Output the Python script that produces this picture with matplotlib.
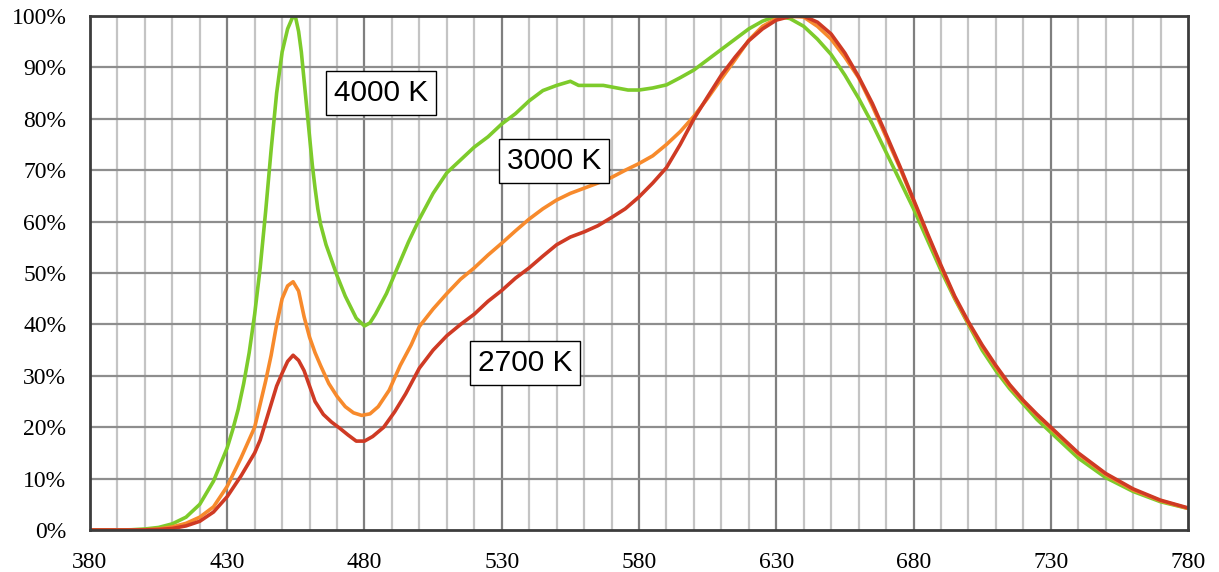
import matplotlib.pyplot as plt
import numpy as np

# wavelength (nm) and relative intensity (%)
wl_4000 = [380, 390, 395, 400, 405, 410, 415, 420, 425, 430, 432, 434, 436, 438, 440, 442, 444, 446, 448,
           450, 452, 454, 455, 456, 457, 458, 459, 460, 461, 462, 463, 464, 466, 468, 470, 473, 477, 480, 482,
           484, 488, 492, 496, 500, 505, 510, 515, 520, 525, 530, 535, 540, 545, 550, 555, 558, 562, 567,
           572, 576, 580, 585, 590, 595, 600, 605, 610, 615, 620, 625, 630, 635, 640, 645, 650, 655, 660,
           665, 670, 675, 680, 685, 690, 695, 700, 705, 710, 715, 720, 725, 730, 740, 750, 760, 770, 780]
val_4000 = [0, 0, 0.05, 0.2, 0.5, 1.2, 2.5, 5, 9.5, 16, 19.5, 23.5, 28.5, 34.5, 42, 51, 62, 74, 85,
            93, 97.5, 100, 99.5, 97, 93, 87.5, 82, 76.5, 71, 66.5, 62.5, 59.5, 55.5, 52.5, 49.5, 45.5, 41.2, 39.7, 40.3,
            42, 46, 51, 56, 60.5, 65.5, 69.5, 72, 74.5, 76.5, 79, 81, 83.5, 85.5, 86.5, 87.3, 86.5, 86.5, 86.5,
            86, 85.6, 85.6, 86, 86.6, 88, 89.5, 91.5, 93.5, 95.5, 97.5, 99, 100, 99.5, 98, 95.5, 92.5, 88.5, 84,
            79, 73.5, 68, 62.5, 56.5, 50.5, 45, 40, 35, 31, 27.5, 24.5, 21.5, 19, 14, 10.2, 7.5, 5.5, 4.2]

wl_3000 = [380, 395, 400, 405, 410, 415, 420, 425, 430, 435, 440, 442, 444, 446, 448, 450, 452, 454, 456,
           458, 460, 462, 464, 467, 470, 473, 476, 479, 482, 485, 489, 493, 497, 500, 505, 510, 515, 520,
           525, 530, 535, 540, 545, 550, 555, 560, 565, 570, 575, 580, 585, 590, 595, 600, 605, 610, 615,
           620, 625, 630, 635, 640, 645, 650, 655, 660, 665, 670, 675, 680, 685, 690, 695, 700, 705, 710,
           715, 720, 725, 730, 740, 750, 760, 770, 780]
val_3000 = [0, 0, 0.05, 0.2, 0.6, 1.3, 2.5, 4.5, 8.5, 14, 20, 24.5, 29, 34, 40, 45, 47.5, 48.3, 46.5,
            41.5, 37.5, 34.5, 32, 28.5, 26, 24, 22.8, 22.3, 22.6, 24, 27.2, 32, 36, 39.6, 43, 46, 48.8, 51,
            53.5, 55.8, 58.2, 60.5, 62.5, 64.2, 65.5, 66.5, 67.5, 68.6, 70, 71.3, 72.8, 75, 77.5, 80.5, 84, 87.8, 91.5,
            95.3, 98, 99.5, 100, 99.8, 98, 95.5, 92, 88, 82.5, 76.5, 70.5, 64, 57.5, 51.2, 45.2, 40.2, 35.7, 31.7,
            28, 25, 22.3, 19.8, 14.8, 10.8, 7.8, 5.7, 4.2]

wl_2700 = [380, 395, 400, 405, 410, 415, 420, 425, 430, 435, 440, 442, 444, 446, 448, 450, 452, 454, 456,
           458, 460, 462, 465, 468, 471, 474, 477, 480, 483, 487, 491, 495, 500, 505, 510, 515, 520, 525,
           530, 535, 540, 545, 550, 555, 560, 565, 570, 575, 580, 585, 590, 595, 600, 605, 610, 615, 620,
           625, 630, 635, 640, 645, 650, 655, 660, 665, 670, 675, 680, 685, 690, 695, 700, 705, 710, 715,
           720, 725, 730, 740, 750, 760, 770, 780]
val_2700 = [0, 0, 0.02, 0.1, 0.3, 0.8, 1.7, 3.5, 6.5, 10.5, 15, 17.5, 21, 24.5, 28, 30.5, 32.8, 34, 33,
            31, 28, 25, 22.5, 21, 19.8, 18.5, 17.3, 17.3, 18.2, 20, 23, 26.5, 31.5, 35, 37.8, 40, 42, 44.5,
            46.6, 49, 51, 53.3, 55.5, 57, 58, 59.2, 60.8, 62.5, 64.8, 67.5, 70.5, 75, 80, 84.3, 88.5, 92, 95.2,
            97.5, 99.2, 99.9, 100, 98.8, 96.5, 92.8, 88.2, 83, 77, 70.8, 64.3, 57.8, 51.5, 45.5, 40.5, 36, 32, 28.3,
            25.2, 22.5, 20, 15, 11, 8, 5.8, 4.3]

labels = ['4000 K', '3000 K', '2700 K']
label_pos = [(486, 85), (549, 71.8), (538.5, 32.5)]
colors = ['#7dcb2b', '#f78a2c', '#cf3a24']

fig = plt.figure(figsize=(12.19, 5.72), dpi=100)
ax = fig.add_axes([0.0738, 0.0734, 0.9008, 0.8986])

ax.set_xlim(380, 780)
ax.set_ylim(0, 100)

# grid: light every 10 nm, darker every 50 nm, horizontal every 10 %
for x in range(390, 780, 10):
    major = (x - 380) % 50 == 0
    ax.axvline(x, color='#7f7f7f' if major else '#c4c4c4', lw=1.6, zorder=1)
for y in range(10, 100, 10):
    ax.axhline(y, color='#8e8e8e', lw=1.6, zorder=1)

for wl, val, c in zip([wl_4000, wl_3000, wl_2700], [val_4000, val_3000, val_2700], colors):
    ax.plot(wl, val, color=c, lw=2.6, zorder=3, solid_capstyle='butt', solid_joinstyle='round')

for lab, (x, y) in zip(labels, label_pos):
    ax.text(x, y, lab, fontsize=21.5, family='Liberation Sans', ha='center', va='center', zorder=5,
            bbox=dict(boxstyle='square,pad=0.27', fc='white', ec='black', lw=1.0))

ax.set_xticks(range(380, 781, 50))
ax.set_yticks(range(0, 101, 10))
ax.set_yticklabels([f'{v}%' for v in range(0, 101, 10)])
ax.tick_params(length=0, labelsize=17)
ax.tick_params(axis='y', pad=17)
ax.tick_params(axis='x', pad=16)
for t in ax.get_xticklabels() + ax.get_yticklabels():
    t.set_family('Liberation Serif')

for s in ax.spines.values():
    s.set_color('#3c3c3c')
    s.set_linewidth(2)
    s.set_zorder(4)

fig.savefig('out.png', dpi=100)
